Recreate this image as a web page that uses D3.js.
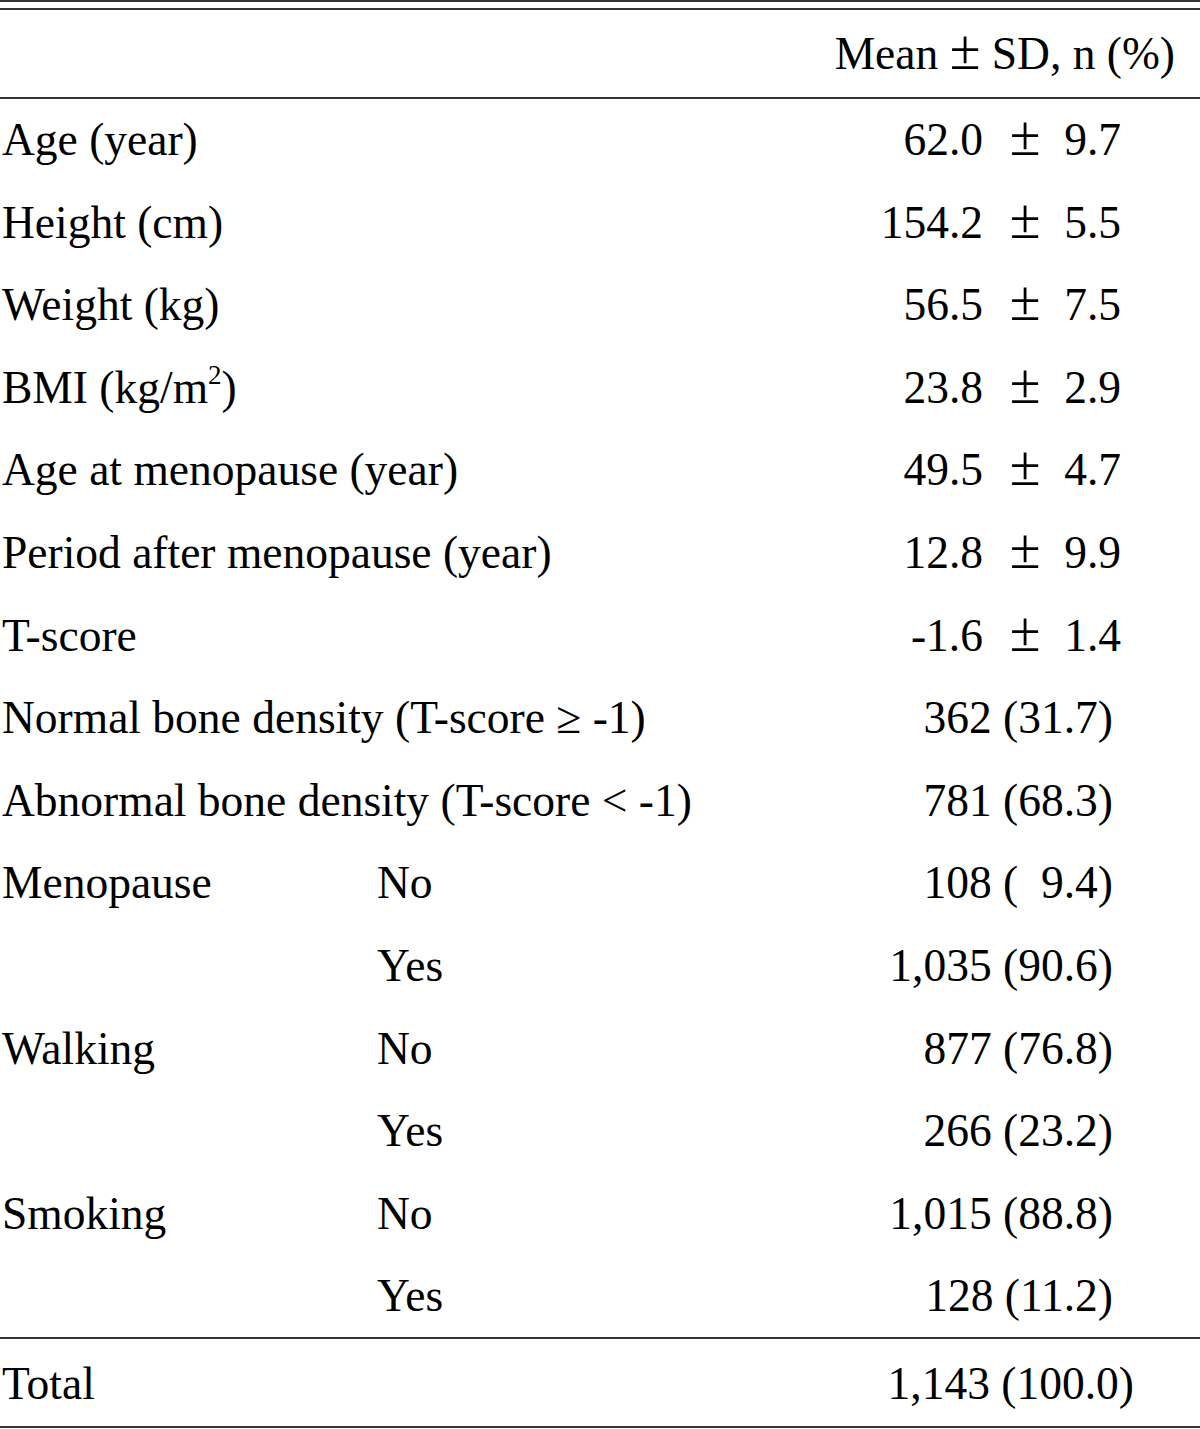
<!DOCTYPE html>
<html>
<head>
<meta charset="utf-8">
<script src="https://cdn.jsdelivr.net/npm/d3@7"></script>
<style>
  html, body { margin: 0; padding: 0; background: #fff; }
  svg text { font-family: "Liberation Serif", "Times New Roman", serif; fill: #000; white-space: pre; }
</style>
</head>
<body>
<div id="table"></div>
<script>
const labels = [
  "Age (year)", "Height (cm)", "Weight (kg)", "BMI (kg/m2)", "Age at menopause (year)",
  "Period after menopause (year)", "T-score",
  "Normal bone density (T-score \u2265 -1)", "Abnormal bone density (T-score < -1)",
  "Menopause", "", "Walking", "", "Smoking", ""
];
const subLabels = ["", "", "", "", "", "", "", "", "", "No", "Yes", "No", "Yes", "No", "Yes"];
const means = ["62.0", "154.2", "56.5", "23.8", "49.5", "12.8", "-1.6"];
const sds = ["9.7", "5.5", "7.5", "2.9", "4.7", "9.9", "1.4"];
const counts = ["362 (31.7)", "781 (68.3)", "108 (  9.4)", "1,035 (90.6)", "877 (76.8)",
  "266 (23.2)", "1,015 (88.8)", "128 (11.2)"];
const header = ["Mean ", "\u00B1", " SD, n (%)"];
const totalLabel = "Total";
const totalValue = "1,143 (100.0)";

const width = 1200, height = 1429;
const fontSize = 45.5;
const pmSize = 56;

const svg = d3.select("#table").append("svg")
  .attr("width", width)
  .attr("height", height);

// row index -> text baseline
const y = d3.scaleLinear().domain([0, 1]).range([155, 237.6]);

const rules = [1, 9, 98, 1338, 1427];
svg.selectAll("line.rule")
  .data(rules)
  .join("line")
  .attr("class", "rule")
  .attr("x1", 0).attr("x2", width)
  .attr("y1", d => d).attr("y2", d => d)
  .attr("stroke", "#333")
  .attr("stroke-width", 2);

const head = svg.append("text")
  .attr("x", 1175).attr("y", 69)
  .attr("text-anchor", "end")
  .attr("font-size", fontSize);
head.selectAll("tspan")
  .data(header)
  .join("tspan")
  .attr("font-size", d => d === "\u00B1" ? pmSize : null)
  .text(d => d);

const rows = svg.selectAll("g.row")
  .data(labels.map((l, i) => ({ label: l, sub: subLabels[i], i })))
  .join("g")
  .attr("class", "row")
  .attr("transform", d => `translate(0,${y(d.i)})`);

rows.append("text")
  .attr("x", 2)
  .attr("font-size", fontSize)
  .each(function (d) {
    const t = d3.select(this);
    if (d.label.includes("m2")) {
      const [a, b] = d.label.split("m2");
      t.append("tspan").text(a + "m");
      t.append("tspan").attr("dy", -19).attr("font-size", 27).text("2");
      t.append("tspan").attr("dy", 19).text(b);
    } else {
      t.text(d.label);
    }
  });

rows.append("text")
  .attr("x", 377)
  .attr("font-size", fontSize)
  .text(d => d.sub);

// mean ± sd rows
const meanRows = rows.filter(d => d.i < means.length);
meanRows.append("text")
  .attr("x", 983).attr("text-anchor", "end")
  .attr("font-size", fontSize)
  .text(d => means[d.i]);
meanRows.append("text")
  .attr("x", 1025).attr("text-anchor", "middle")
  .attr("font-size", pmSize)
  .text("\u00B1");
meanRows.append("text")
  .attr("x", 1121).attr("text-anchor", "end")
  .attr("font-size", fontSize)
  .text(d => sds[d.i]);

// n (%) rows
const countRows = rows.filter(d => d.i >= means.length);
countRows.append("text")
  .attr("x", 1113).attr("text-anchor", "end")
  .attr("font-size", fontSize)
  .text(d => counts[d.i - means.length]);

svg.append("text")
  .attr("x", 2).attr("y", 1399)
  .attr("font-size", fontSize)
  .text(totalLabel);
svg.append("text")
  .attr("x", 1134).attr("y", 1399)
  .attr("text-anchor", "end")
  .attr("font-size", fontSize)
  .text(totalValue);
</script>
</body>
</html>
